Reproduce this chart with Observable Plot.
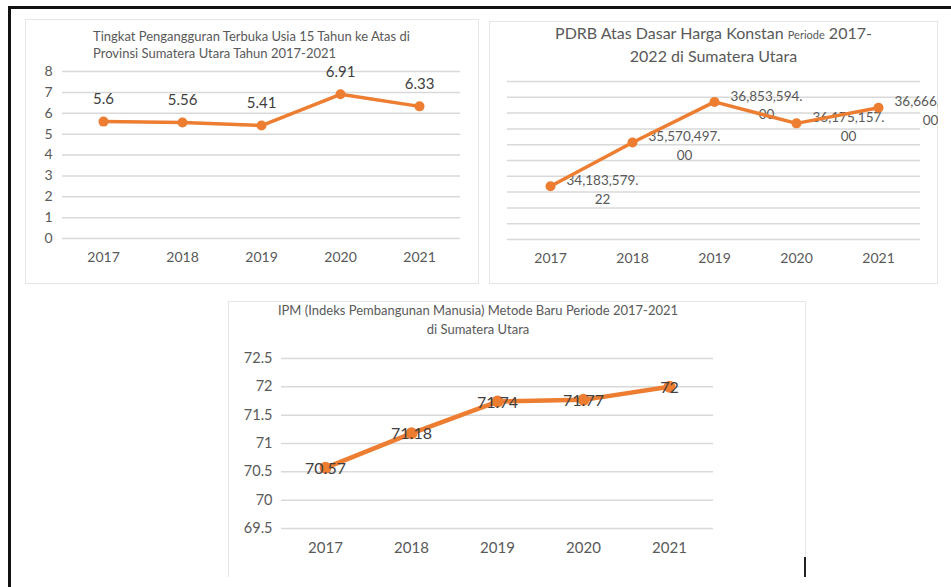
<!DOCTYPE html>
<html>
<head>
<meta charset="utf-8">
<script src="https://cdn.jsdelivr.net/npm/d3@7"></script>
<script src="https://cdn.jsdelivr.net/npm/@observablehq/plot@0.6"></script>
<style>
  html, body { margin: 0; padding: 0; background: #fff; }
  #page { position: relative; width: 951px; height: 587px; overflow: hidden; font-family: Lato, sans-serif; }
  .abs { position: absolute; }
  .frame { position: absolute; border: 1px solid #e6e6e6; box-sizing: border-box; }
  .title { position: absolute; color: #595959; white-space: nowrap; }
  .holder { position: absolute; overflow: hidden; }
</style>
</head>
<body>
<div id="page">
  <div class="abs" style="left:8px;top:6px;width:943px;height:2.5px;background:#111;"></div>
  <div class="abs" style="left:8px;top:6px;width:2.5px;height:581px;background:#111;"></div>

  <div class="frame" style="left:25px;top:19px;width:454px;height:265px;"></div>
  <div class="frame" style="left:489px;top:21px;width:449px;height:263px;"></div>
  <div class="frame" style="left:228px;top:301px;width:578px;height:276px;border-bottom:none;"></div>
  <div class="abs" style="left:804px;top:557px;width:2px;height:20px;background:#222;"></div>

  <div class="holder" id="c1" style="left:25px;top:19px;width:453px;height:264px;"></div>
  <div class="holder" id="c2" style="left:489px;top:21px;width:449px;height:262px;"></div>
  <div class="holder" id="c3" style="left:228px;top:301px;width:577px;height:276px;"></div>

  <div class="title" style="left:93px;top:28px;font-size:13px;line-height:17px;">Tingkat Pengangguran Terbuka Usia 15 Tahun ke Atas di<br>Provinsi Sumatera Utara Tahun 2017-2021</div>
  <div class="title" style="left:489px;top:22px;width:449px;text-align:center;font-size:16px;line-height:21px;">PDRB Atas Dasar Harga Konstan <span style="font-size:11px;">Periode</span> 2017-<br>2022 di Sumatera Utara</div>
  <div class="title" style="left:178px;top:301px;width:600px;text-align:center;font-size:13px;line-height:19px;">IPM (Indeks Pembangunan Manusia) Metode Baru Periode 2017-2021<br>di Sumatera Utara</div>
</div>
<script>
const years = ["2017", "2018", "2019", "2020", "2021"];
const tptValues = [5.6, 5.56, 5.41, 6.91, 6.33];
const tptTicks = [0, 1, 2, 3, 4, 5, 6, 7, 8];
const pdrbValues = [34183579.22, 35570497.00, 36853594.00, 36175157.00, 36666800.00];
const pdrbTicks = [32500000, 33000000, 33500000, 34000000, 34500000, 35000000, 35500000, 36000000, 36500000, 37000000, 37500000];
const ipmValues = [70.57, 71.18, 71.74, 71.77, 72];
const ipmTicks = [69.5, 70, 70.5, 71, 71.5, 72, 72.5];

const orange = "#ED7D31";
const grid = "#d9d9d9";

const tpt = years.map((y, i) => ({year: y, value: tptValues[i]}));
const pdrb = years.map((y, i) => {
  const s = d3.format(",.2f")(pdrbValues[i]);
  const k = s.indexOf(".");
  return {year: y, value: pdrbValues[i], label: s.slice(0, k + 1) + "\n" + s.slice(k + 1)};
});
const ipm = years.map((y, i) => ({year: y, value: ipmValues[i]}));

// Chart 1
const p1 = Plot.plot({
  width: 453, height: 264,
  marginLeft: 37, marginRight: 18, marginTop: 52, marginBottom: 45,
  style: {fontFamily: "Lato, sans-serif", fontSize: "14px", color: "#595959", background: "transparent"},
  x: {type: "point", domain: years, padding: 0.5, label: null},
  y: {domain: [0, 8], label: null},
  marks: [
    Plot.ruleY(tptTicks, {stroke: grid, strokeWidth: 1.5}),
    Plot.axisY({ticks: tptTicks, tickSize: 0, tickPadding: 10, fontSize: 14, label: null, tickFormat: d => String(d)}),
    Plot.axisX({tickSize: 0, tickPadding: 14, fontSize: 14, label: null}),
    Plot.line(tpt, {x: "year", y: "value", stroke: orange, strokeWidth: 3.5}),
    Plot.dot(tpt, {x: "year", y: "value", fill: orange, r: 5}),
    Plot.text(tpt, {x: "year", y: "value", text: d => String(d.value), dy: -22, fontSize: 15, fill: "#404040"})
  ]
});
document.getElementById("c1").appendChild(p1);

// Chart 2
const p2 = Plot.plot({
  width: 449, height: 262,
  marginLeft: 18, marginRight: 18, marginTop: 60, marginBottom: 44,
  style: {fontFamily: "Lato, sans-serif", fontSize: "14px", color: "#595959", background: "transparent", overflow: "hidden"},
  x: {type: "point", domain: years, padding: 0.5, label: null},
  y: {domain: [32500000, 37500000], axis: null},
  marks: [
    Plot.ruleY(pdrbTicks, {stroke: grid, strokeWidth: 1.5}),
    Plot.axisX({tickSize: 0, tickPadding: 14, fontSize: 14, label: null}),
    Plot.text(pdrb, {x: "year", y: "value", text: "label", dx: 52, dy: 2, fontSize: 13.5, lineHeight: 1.4, fill: "#595959"}),
    Plot.line(pdrb, {x: "year", y: "value", stroke: orange, strokeWidth: 3.5}),
    Plot.dot(pdrb, {x: "year", y: "value", fill: orange, r: 5})
  ]
});
document.getElementById("c2").appendChild(p2);

// Chart 3
const p3 = Plot.plot({
  width: 577, height: 276,
  marginLeft: 53, marginRight: 92, marginTop: 57, marginBottom: 49,
  style: {fontFamily: "Lato, sans-serif", fontSize: "15px", color: "#595959", background: "transparent"},
  x: {type: "point", domain: years, padding: 0.5, label: null},
  y: {domain: [69.5, 72.5], label: null},
  marks: [
    Plot.ruleY(ipmTicks, {stroke: grid, strokeWidth: 1.5}),
    Plot.axisY({ticks: ipmTicks, tickSize: 0, tickPadding: 9, fontSize: 14.5, label: null, tickFormat: d => String(d)}),
    Plot.axisX({tickSize: 0, tickPadding: 14, fontSize: 15, label: null}),
    Plot.line(ipm, {x: "year", y: "value", stroke: orange, strokeWidth: 4.5}),
    Plot.dot(ipm, {x: "year", y: "value", fill: orange, r: 6}),
    Plot.text(ipm, {x: "year", y: "value", text: d => String(d.value), dy: 1, fontSize: 16, fill: "#404040"})
  ]
});
document.getElementById("c3").appendChild(p3);
</script>
</body>
</html>
